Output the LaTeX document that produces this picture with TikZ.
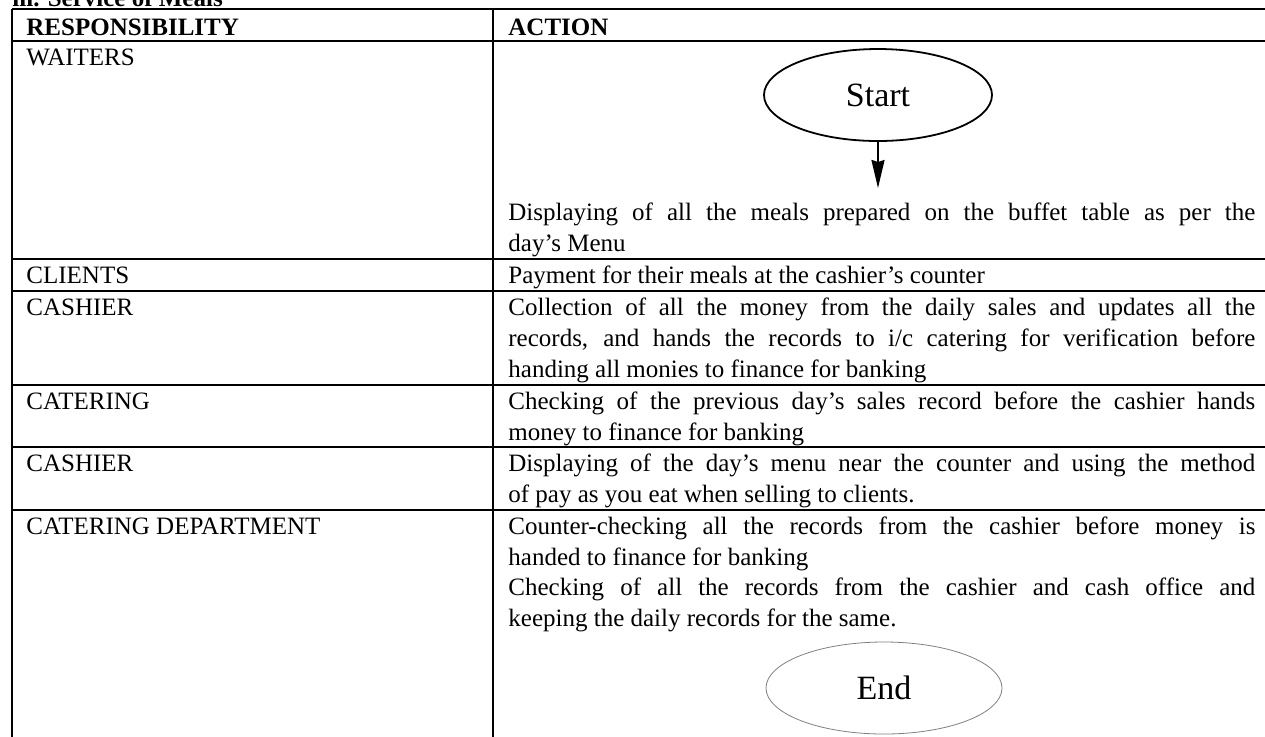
\documentclass[tikz,border=0pt]{standalone}
\usepackage{fontspec}
\setmainfont{Liberation Serif}
\usetikzlibrary{shapes.geometric,arrows.meta}

% body text of the table cells
\newcommand\cellfont{\fontsize{12.5}{15}\selectfont}
% a full justified line of the ACTION column
\newcommand\jline[1]{\makebox[373.5pt][s]{#1}}

\tikzset{
  rule/.style={line width=1pt},
  cell/.style={anchor=base west, inner sep=0pt, font=\cellfont},
  head/.style={cell, font=\cellfont\bfseries},
  terminal/.style={ellipse, inner sep=0pt, minimum width=114pt, minimum height=46pt,
                   font=\fontsize{17}{20}\selectfont},
}

\begin{document}
\begin{tikzpicture}[x=0.5pt,y=-0.5pt]
\useasboundingbox (0,0) rectangle (1265,736);

% section heading
\node[head] (title) at (12,6) {iii. Service of Meals};

% table rules
\foreach \y in {9,41,259,291,385,447,510}
  \draw[rule] (12,\y) -- (1280,\y);
\draw[rule] (12,9) -- (12,760);
\draw[rule] (493,9) -- (493,760);

% header
\node[head] (hresp) at (26,35) {RESPONSIBILITY};
\node[head] (hact)  at (508,35) {ACTION};

% responsibility column
\node[cell] (r1) at (26,65)  {WAITERS};
\node[cell] (r2) at (26,283) {CLIENTS};
\node[cell] (r3) at (26,315) {CASHIER};
\node[cell] (r4) at (26,409) {CATERING};
\node[cell] (r5) at (26,471) {CASHIER};
\node[cell] (r6) at (26,534) {CATERING DEPARTMENT};

% start terminal and its arrow
\node[terminal, draw, line width=0.9pt] (start) at (878,95) {Start};
\coordinate (startend) at (878,188);
\draw[line width=1pt, -{Stealth[length=14pt,width=6.5pt,inset=1pt]}] (start.south) -- (startend);

% action column
\node[cell] (a1a) at (508,220) {\jline{Displaying of all the meals prepared on the buffet table as per the}};
\node[cell] (a1b) at (508,251) {day’s Menu};

\node[cell] (a2a) at (508,283) {Payment for their meals at the cashier’s counter};

\node[cell] (a3a) at (508,315) {\jline{Collection of all the money from the daily sales and updates all the}};
\node[cell] (a3b) at (508,346) {\jline{records, and hands the records to i/c catering for verification before}};
\node[cell] (a3c) at (508,377) {handing all monies to finance for banking};

\node[cell] (a4a) at (508,409) {\jline{Checking of the previous day’s sales record before the cashier hands}};
\node[cell] (a4b) at (508,440) {money to finance for banking};

\node[cell] (a5a) at (508,471) {\jline{Displaying of the day’s menu near the counter and using the method}};
\node[cell] (a5b) at (508,502) {of pay as you eat when selling to clients.};

\node[cell] (a6a) at (508,534) {\jline{Counter-checking all the records from the cashier before money is}};
\node[cell] (a6b) at (508,565) {handed to finance for banking};
\node[cell] (a6c) at (508,595) {\jline{Checking of all the records from the cashier and cash office and}};
\node[cell] (a6d) at (508,626) {keeping the daily records for the same.};

% end terminal
\node[terminal, draw=gray, line width=0.4pt, minimum width=118pt] (finish) at (884,688) {End};
\end{tikzpicture}
\end{document}
